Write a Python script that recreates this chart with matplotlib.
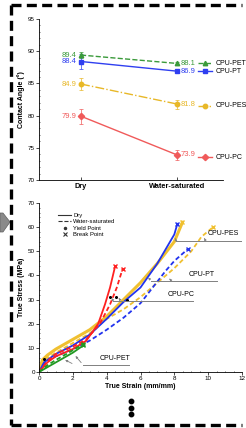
import matplotlib
matplotlib.use("Agg")
import matplotlib.pyplot as plt
from matplotlib.patches import Polygon
from matplotlib.lines import Line2D
from matplotlib.ticker import MultipleLocator

# contact angle data (top panel)
conditions = ["Dry", "Water-saturated"]
samples = ["CPU-PET", "CPU-PT", "CPU-PES", "CPU-PC"]
angle = {"CPU-PET": [89.4, 88.1], "CPU-PT": [88.4, 86.9],
         "CPU-PES": [84.9, 81.8], "CPU-PC": [79.9, 73.9]}
angle_err = {"CPU-PET": [0.5, 0.3], "CPU-PT": [1.2, 0.3],
             "CPU-PES": [1.0, 0.7], "CPU-PC": [1.2, 0.8]}
legend_y = {"CPU-PET": 88.1, "CPU-PT": 86.9, "CPU-PES": 81.5, "CPU-PC": 73.5}

# true stress / strain curves (bottom panel)
pc_dry_x = [0, 0.5, 1.0, 2.0, 2.8, 3.5, 3.9, 4.2, 4.5]
pc_dry_y = [0, 4, 6.5, 9.5, 13, 20, 28, 35, 43.8]
pc_wet_x = [0, 0.5, 1.0, 2.0, 2.8, 3.6, 4.2, 4.6, 4.94]
pc_wet_y = [0, 4.5, 7.5, 10.5, 13.5, 20, 28, 35, 42.7]
pt_dry_x = [0, 0.3, 1.0, 2.0, 3.0, 4.0, 5.0, 6.0, 6.5, 7.0, 7.5, 8.0, 8.18]
pt_dry_y = [0, 4, 7.5, 11, 15.5, 22, 29, 35, 40, 45, 51, 57, 61.4]
pt_wet_x = [0, 0.4, 1.0, 2.0, 3.0, 4.0, 5.0, 6.0, 6.5, 7.0, 7.5, 8.0, 8.81]
pt_wet_y = [0, 4.5, 6.5, 9.5, 13, 17.5, 22.5, 28.5, 33, 37.5, 42, 46, 51]
pes_dry_x = [0, 0.2, 0.5, 1.0, 2.0, 3.0, 4.0, 5.0, 6.0, 7.0, 8.0, 8.48]
pes_dry_y = [0, 5, 7, 9.5, 13.5, 17.5, 23, 30, 37, 45, 54, 62]
pes_wet_x = [0, 0.3, 1.0, 2.0, 3.0, 3.5, 4.0, 5.0, 6.0, 7.0, 8.0, 9.0, 9.6, 10.29]
pes_wet_y = [0, 5, 8, 12, 16, 19, 22, 26, 31, 37, 43, 50, 56, 60]
pet_dry_x = [0, 0.5, 1.0, 1.5, 2.0, 2.62]
pet_dry_y = [0, 2, 4, 6, 8, 11]
pet_wet_x = [0, 0.5, 1.0, 1.5, 2.0, 2.6]
pet_wet_y = [0, 2.8, 5, 7, 9, 11.5]

top_col = {"CPU-PET": "#3a9a3a", "CPU-PT": "#2f3ff0",
           "CPU-PES": "#e8b828", "CPU-PC": "#f05a5a"}
top_style = {"CPU-PET": ("--", "^"), "CPU-PT": ("-", "s"),
             "CPU-PES": ("-.", "o"), "CPU-PC": ("-", "D")}
red, blue, yellow, green = "#ff2020", "#2233ee", "#f0c030", "#229922"

plt.rcParams["font.family"] = "Liberation Sans"

fig = plt.figure(figsize=(2.46, 4.28), dpi=100)

# dashed frame
dash = dict(color="black", lw=2.4, ls=(0, (3, 1.6)), transform=fig.transFigure, clip_on=False)
fig.add_artist(Line2D([11 / 246, 11 / 246], [1 - 5 / 428, 1 - 425 / 428], **dash))
fig.add_artist(Line2D([11 / 246, 0.985], [1 - 5 / 428, 1 - 5 / 428], **dash))
fig.add_artist(Line2D([11 / 246, 0.985], [1 - 425 / 428, 1 - 425 / 428], **dash))

# gray arrow on left
arrow = [(0, 213), (3, 213), (10, 222), (3, 232), (0, 232)]
fig.add_artist(Polygon([(x / 246, 1 - y / 428) for x, y in arrow], closed=True,
                       facecolor="#8a8a8a", edgecolor="#606060", lw=0.5,
                       transform=fig.transFigure))

# ---- top panel: contact angle ----
ax1 = fig.add_axes([39 / 246, 1 - 180 / 428, (223 - 39) / 246, (180 - 19) / 428])
xs = [0, 1]
for s in samples:
    ls, mk = top_style[s]
    c = top_col[s]
    ax1.errorbar(xs, angle[s], yerr=angle_err[s], color=c, ls=ls, marker=mk,
                 ms=3.2, lw=1.0, elinewidth=0.5, ecolor=c, capsize=1.2, capthick=0.5)
    ax1.text(-0.05, angle[s][0], f"{angle[s][0]}", color=c, fontsize=5.5,
             ha="right", va="center")
    ax1.text(1.04, angle[s][1], f"{angle[s][1]}", color=c, fontsize=5.5,
             ha="left", va="center")
    ax1.plot([1.22, 1.36], [legend_y[s]] * 2, color=c, ls=ls, lw=1.0, clip_on=False)
    ax1.plot([1.29], [legend_y[s]], color=c, marker=mk, ms=3.2, clip_on=False)
    ax1.text(1.40, legend_y[s], s, fontsize=5, ha="left", va="center", clip_on=False)

ax1.set_xlim(-0.4375, 1.479)
ax1.set_ylim(70, 95)
ax1.set_xticks(xs)
ax1.set_xticklabels(conditions, fontsize=5.3, fontweight="bold")
ax1.yaxis.set_major_locator(MultipleLocator(5))
ax1.yaxis.set_minor_locator(MultipleLocator(1))
ax1.tick_params(axis="y", labelsize=4.5, length=2, width=0.5, pad=1)
ax1.tick_params(axis="y", which="minor", length=1, width=0.4, direction="in")
ax1.tick_params(axis="x", length=2, width=0.5, direction="in", pad=2)
ax1.set_ylabel("Contact Angle (°)", fontsize=5, fontweight="bold", labelpad=2)
for side in ["top", "right"]:
    ax1.spines[side].set_visible(False)
for side in ["left", "bottom"]:
    ax1.spines[side].set_linewidth(0.6)

# ---- bottom panel: stress strain ----
ax2 = fig.add_axes([39 / 246, 1 - 372 / 428, (242 - 39) / 246, (372 - 203) / 428])
curves = [
    (pes_wet_x, pes_wet_y, yellow, "--"),
    (pes_dry_x, pes_dry_y, yellow, "-"),
    (pt_wet_x, pt_wet_y, blue, "--"),
    (pt_dry_x, pt_dry_y, blue, "-"),
    (pc_wet_x, pc_wet_y, red, "--"),
    (pc_dry_x, pc_dry_y, red, "-"),
    (pet_wet_x, pet_wet_y, green, "--"),
    (pet_dry_x, pet_dry_y, green, "-"),
]
for x, y, c, ls in curves:
    lw = 2.2 if (c == yellow and ls == "-") else 1.3
    ax2.plot(x, y, color=c, ls=ls, lw=lw, dashes=(2.5, 1.5) if ls == "--" else (None, None))
    ax2.plot(x[-1], y[-1], color=c, marker="x", ms=3.5, mew=1.0)

# yield points
yield_pts = [(4.2, 31), (4.55, 31), (5.2, 30), (0.3, 5.5)]
for xp, yp in yield_pts:
    ax2.plot(xp, yp, marker="o", color="black", ms=1.2)

# annotation labels with leader lines
gray = "#808080"
labels = [
    ("CPU-PES", 10.9, 55.9, 8.1, 12.0, 54.3, [(8.1, 8.0, 56.5), (9.85, 9.7, 56.5)]),
    ("CPU-PT", 9.6, 38.9, 6.65, 10.5, 37.6, [(6.65, 6.35, 40.0), (7.85, 7.6, 39.5)]),
    ("CPU-PC", 8.4, 30.8, 4.4, 9.1, 29.4, [(4.4, 4.2, 31.5), (4.85, 4.6, 31.5)]),
    ("CPU-PET", 4.5, 4.3, 2.6, 5.3, 3.0, [(2.6, 2.05, 7.5), (2.1, 1.4, 5.5)]),
]
for name, tx, ty, ux0, ux1, uy, leaders in labels:
    ax2.text(tx, ty, name, fontsize=5, ha="center", va="bottom")
    ax2.plot([ux0, ux1], [uy, uy], color=gray, lw=0.7)
    for sx, ex, ey in leaders:
        ax2.annotate("", xy=(ex, ey), xytext=(sx, uy),
                     arrowprops=dict(arrowstyle="-|>", color=gray, lw=0.6,
                                     mutation_scale=3))

# legend
handles = [
    Line2D([], [], color="#333333", lw=0.8, ls="-"),
    Line2D([], [], color="#333333", lw=0.8, ls="--"),
    Line2D([], [], color="#333333", lw=0, marker="o", ms=1.5),
    Line2D([], [], color="#333333", lw=0, marker="x", ms=2.5, mew=0.8),
]
ax2.legend(handles, ["Dry", "Water-saturated", "Yield Point", "Break Point"],
           loc="upper left", bbox_to_anchor=(0.08, 0.96), fontsize=4.2, frameon=False,
           handlelength=2.2, handletextpad=0.4, labelspacing=0.25, borderpad=0)

ax2.set_xlim(0, 12)
ax2.set_ylim(0, 70)
ax2.xaxis.set_major_locator(MultipleLocator(2))
ax2.xaxis.set_minor_locator(MultipleLocator(0.5))
ax2.yaxis.set_major_locator(MultipleLocator(10))
ax2.yaxis.set_minor_locator(MultipleLocator(2))
ax2.tick_params(labelsize=4.5, length=2, width=0.5, pad=1)
ax2.tick_params(which="minor", length=1, width=0.4, direction="in")
ax2.set_xlabel("True Strain (mm/mm)", fontsize=5, fontweight="bold", labelpad=1)
ax2.set_ylabel("True Stress (MPa)", fontsize=5, fontweight="bold", labelpad=2)
for side in ["top", "right"]:
    ax2.spines[side].set_visible(False)
for side in ["left", "bottom"]:
    ax2.spines[side].set_linewidth(0.6)

# three dots below
for yy in [401, 407.5, 414]:
    fig.add_artist(Line2D([130.5 / 246], [1 - yy / 428], marker="o", ms=3.2,
                          color="black", lw=0, transform=fig.transFigure))

fig.savefig("out.png", dpi=100)
